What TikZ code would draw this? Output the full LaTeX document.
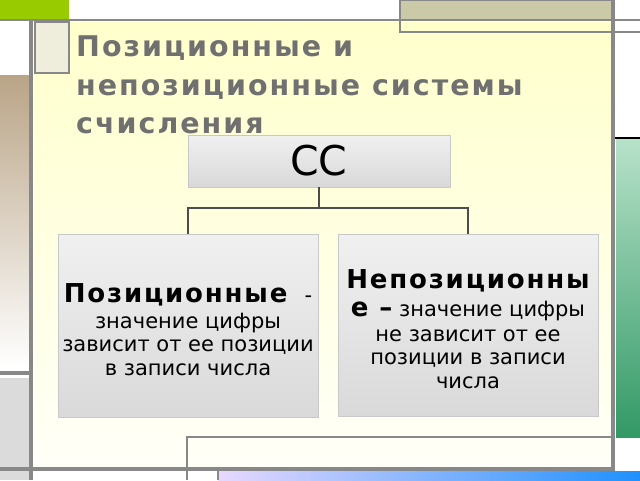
\documentclass[tikz,border=0pt]{standalone}
\usepackage{fontspec}
\setmainfont{DejaVu Sans}
\newfontfamily\spacedfont{DejaVu Sans}[LetterSpace=7]
\definecolor{FrameGray}{HTML}{888888}
\definecolor{LeafGreen}{HTML}{99CC00}
\definecolor{Khaki}{HTML}{CACAA8}
\definecolor{PaleBox}{HTML}{EFEEDC}
\definecolor{PanelTop}{HTML}{FFFFCC}
\definecolor{PanelBottom}{HTML}{FFFFF8}
\definecolor{BarkTop}{HTML}{B9A487}
\definecolor{MintTop}{HTML}{B8E2CA}
\definecolor{MintBottom}{HTML}{339966}
\definecolor{LilacLeft}{HTML}{E8D8FF}
\definecolor{SkyRight}{HTML}{1E90FF}
\definecolor{TitleGray}{HTML}{707070}
\definecolor{BoxTop}{HTML}{F0F0F0}
\definecolor{BoxBottom}{HTML}{D9D9D9}
\definecolor{BoxEdge}{HTML}{C8C8C8}

\begin{document}
\begin{tikzpicture}[x=1pt,y=-1pt]
    \tikzstyle{every node}=[font=\fontsize{21}{23.5}\selectfont]
    \tikzstyle{frame}=[draw=FrameGray,line width=1.5pt]
    \tikzstyle{bar}=[draw=FrameGray,line width=4pt]
    \tikzstyle{box}=[draw=BoxEdge,top color=BoxTop,bottom color=BoxBottom,inner sep=0pt]
    \tikzstyle{boxtext}=[align=center,inner sep=0pt]
    \tikzstyle{link}=[draw=black!70,line width=1.2pt]
    \useasboundingbox (0,0) rectangle (640,480);

    % slide background
    \fill[white] (0,0) rectangle (640,480);
    \shade[top color=PanelTop,bottom color=PanelBottom] (34,22) rectangle (612,468);
    \fill[LeafGreen] (0,0) rectangle (69,20);
    \fill[Khaki] (400,0) rectangle (612,20);
    \shade[top color=BarkTop,bottom color=white] (0,75) rectangle (29,368);
    \fill[black!14] (0,378) rectangle (29,480);
    \shade[top color=MintTop,bottom color=MintBottom] (616,138) rectangle (640,437);
    \shade[left color=LilacLeft,right color=SkyRight] (218,471) rectangle (640,480);
    \filldraw[fill=PaleBox,frame] (35,22) rectangle (69,73);
    \draw[frame] (0,20) -- (640,20);
    \draw[frame] (400,0) rectangle (612,32);
    \draw[frame] (614,32) -- (640,32);
    \draw[frame] (187,480) -- (187,437) -- (612,437);
    \draw[frame] (218,471) -- (218,480);
    \draw[draw=black,line width=1.2pt] (614,138) -- (640,138);
    \draw[bar] (0,373) -- (31,373);
    \draw[bar] (31,20) -- (31,480);
    \draw[bar] (613,0) -- (613,470);
    \draw[bar] (0,469) -- (615,469);

    % title
    \node[anchor=north west,align=left,inner sep=0pt,text=TitleGray,
          font=\fontsize{28.5}{38.5}\spacedfont\bfseries] (Title) at (76,36)
        {Позиционные и\\непозиционные системы\\счисления};

    % diagram
    \node[box,minimum width=262,minimum height=52,font=\fontsize{41}{44}\selectfont] (Root) at (319,161) {СС};
    \node[box,minimum width=260,minimum height=183] (Positional) at (188,325.5) {};
    \node[box,minimum width=260,minimum height=182] (NonPositional) at (468,325) {};
    \node[boxtext] (PositionalText) at ([yshift=-4]Positional.center)
        {{\fontsize{26}{27}\spacedfont\bfseries Позиционные}\enspace\ -\\[2pt]значение цифры\\зависит от ее позиции\\в записи числа};
    \node[boxtext] (NonPositionalText) at ([yshift=-4]NonPositional.center)
        {{\fontsize{26}{27}\spacedfont\bfseries Непозиционны}\\[5pt]{\fontsize{26}{27}\spacedfont\bfseries е –} значение цифры\\[1pt]не зависит от ее\\позиции в записи\\числа};

    \coordinate (Split) at (319,208);
    \draw[link] (Root) -- (Split);
    \draw[link] (Split) -| (Positional);
    \draw[link] (Split) -| (NonPositional);
\end{tikzpicture}
\end{document}
